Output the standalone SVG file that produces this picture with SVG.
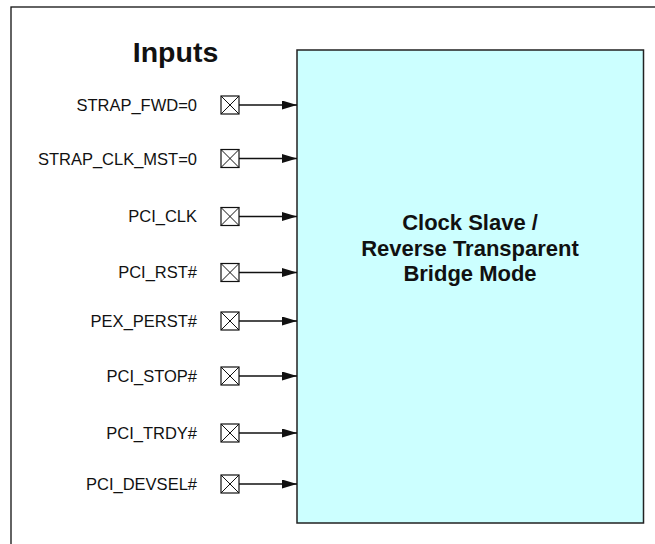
<svg xmlns="http://www.w3.org/2000/svg" width="655" height="544" viewBox="0 0 655 544">
<defs>
<style>
.lbl{font-family:"Liberation Sans",Arial,sans-serif;font-size:16.5px;fill:#111;text-anchor:end}
.title{font-family:"Liberation Sans",Arial,sans-serif;font-size:28.5px;font-weight:bold;fill:#111;text-anchor:middle}
.btxt{font-family:"Liberation Sans",Arial,sans-serif;font-size:22px;font-weight:bold;fill:#111;text-anchor:middle}
.pin{fill:#fff;stroke:#111;stroke-width:1.2}
.x{stroke:#111;stroke-width:1}
.wire{stroke:#111;stroke-width:1.3;fill:none;marker-end:url(#ah)}
</style>
<marker id="ah" markerUnits="userSpaceOnUse" markerWidth="16" markerHeight="10" refX="15" refY="4.5" orient="auto">
<path d="M0,0 L15,4.5 L0,9 Z" fill="#111"/>
</marker>
<g id="pinsym">
<rect class="pin" x="221" y="-9" width="18" height="18"/>
<path class="x" d="M221,-9 L239,9 M239,-9 L221,9"/>
</g>
</defs>
<rect width="655" height="544" fill="#fff"/>
<rect x="11" y="7" width="700" height="600" fill="none" stroke="#111" stroke-width="1.3"/>
<g id="title"><text class="title" x="175.5" y="62.3">Inputs</text></g>
<g id="block">
<rect x="297" y="50" width="346.5" height="473" fill="#ccffff" stroke="#222" stroke-width="1.5"/>
<text class="btxt" x="470" y="229.5">Clock Slave /</text>
<text class="btxt" x="470" y="255.7">Reverse Transparent</text>
<text class="btxt" x="470" y="281">Bridge Mode</text>
</g>
<g id="pin1"><text class="lbl" x="197" y="111">STRAP_FWD=0</text><use href="#pinsym" y="105"/></g>
<g id="pin2"><text class="lbl" x="197" y="164.5">STRAP_CLK_MST=0</text><use href="#pinsym" y="158.5"/></g>
<g id="pin3"><text class="lbl" x="197" y="222">PCI_CLK</text><use href="#pinsym" y="216.5"/></g>
<g id="pin4"><text class="lbl" x="197" y="278">PCI_RST#</text><use href="#pinsym" y="272.5"/></g>
<g id="pin5"><text class="lbl" x="197" y="326.5">PEX_PERST#</text><use href="#pinsym" y="321"/></g>
<g id="pin6"><text class="lbl" x="197" y="381.5">PCI_STOP#</text><use href="#pinsym" y="376"/></g>
<g id="pin7"><text class="lbl" x="197" y="438.5">PCI_TRDY#</text><use href="#pinsym" y="433"/></g>
<g id="pin8"><text class="lbl" x="197" y="489.5">PCI_DEVSEL#</text><use href="#pinsym" y="484"/></g>
<g id="connectors">
<path class="wire" d="M239,105 H297"/>
<path class="wire" d="M239,158.5 H297"/>
<path class="wire" d="M239,216.5 H297"/>
<path class="wire" d="M239,272.5 H297"/>
<path class="wire" d="M239,321 H297"/>
<path class="wire" d="M239,376 H297"/>
<path class="wire" d="M239,433 H297"/>
<path class="wire" d="M239,484 H297"/>
</g>
</svg>
